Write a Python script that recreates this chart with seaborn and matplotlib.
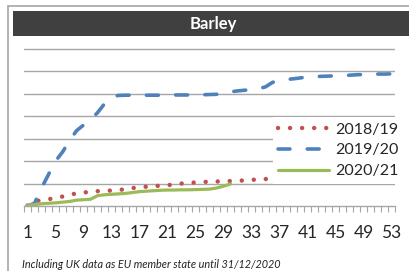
import numpy as np
import pandas as pd
import seaborn as sns
import matplotlib.pyplot as plt
from matplotlib.patches import Rectangle
from matplotlib.lines import Line2D


title = "Barley"
note = "Including UK data as EU member state until 31/12/2020"
series_names = ["2018/19", "2019/20", "2020/21"]
colors = ["#C0504D", "#4F81BD", "#9BBB59"]

weeks_1819 = list(range(1, 37))
vals_1819 = [0.02, 0.20, 0.26, 0.30, 0.36, 0.42, 0.50, 0.56, 0.60, 0.63,
             0.66, 0.67, 0.69, 0.70, 0.76, 0.80, 0.83, 0.86, 0.89, 0.90,
             0.92, 0.97, 1.00, 1.02, 1.05, 1.07, 1.08, 1.09, 1.10, 1.11,
             1.12, 1.14, 1.16, 1.19, 1.20, 1.21]

weeks_1920 = list(range(1, 54))
vals_1920 = [0.00, 0.12, 0.80, 1.40, 2.00, 2.40, 2.90, 3.35, 3.60, 3.85,
             4.15, 4.55, 4.85, 4.92, 4.93, 4.93, 4.93, 4.93, 4.93, 4.93,
             4.94, 4.94, 4.94, 4.94, 4.95, 4.95, 4.96, 4.97, 5.00, 5.08,
             5.12, 5.15, 5.18, 5.22, 5.30, 5.50, 5.60, 5.63, 5.66, 5.70,
             5.74, 5.76, 5.77, 5.78, 5.79, 5.80, 5.82, 5.84, 5.85, 5.86,
             5.87, 5.87, 5.88]

weeks_2021 = list(range(1, 31))
vals_2021 = [0.04, 0.06, 0.10, 0.12, 0.14, 0.17, 0.20, 0.26, 0.28, 0.30,
             0.46, 0.50, 0.52, 0.54, 0.56, 0.60, 0.64, 0.66, 0.68, 0.70,
             0.71, 0.71, 0.72, 0.72, 0.73, 0.74, 0.75, 0.80, 0.88, 0.98]

tick_weeks = list(range(1, 54, 4))

sns.set_style("white")
plt.rcParams['font.family'] = ['Lato', 'DejaVu Sans']

W, H = 409, 271
fig = plt.figure(figsize=(W / 100, H / 100), dpi=100)

# outer frame (left + top only, rest is cropped)
fig.add_artist(Line2D([7.5 / W, 7.5 / W], [0, 1 - 6 / H], color="#A6A6A6", lw=1.2))
fig.add_artist(Line2D([7.5 / W, 1], [1 - 6 / H, 1 - 6 / H], color="#A6A6A6", lw=1.2))

# title bar
fig.add_artist(Rectangle((13 / W, 1 - 36 / H), 1 - 13 / W, 25 / H,
                         transform=fig.transFigure, color="#404040", lw=0))
fig.text(213 / W, 1 - 23.5 / H, title, color="white", fontweight="bold",
         fontsize=12, ha="center", va="center")

ax = fig.add_axes([24 / W, 1 - 206 / H, 371 / W, 158 / H])

sns.lineplot(x=weeks_1819, y=vals_1819, ax=ax, color=colors[0], lw=3.2,
             linestyle=(0, (0.01, 2.7)), dash_capstyle="round", label=series_names[0])
sns.lineplot(x=weeks_1920, y=vals_1920, ax=ax, color=colors[1], lw=2.6,
             linestyle=(0, (3.3, 4.8)), dash_capstyle="round", label=series_names[1])
sns.lineplot(x=weeks_2021, y=vals_2021, ax=ax, color=colors[2], lw=2.3,
             label=series_names[2])

ax.set_xlim(0.5, 53.5)
ax.set_ylim(0, 7.03)
ax.set_yticks([])
for gy in range(1, 8):
    ax.axhline(gy, color="#A6A6A6", lw=1.0, zorder=0)

ax.set_xticks(tick_weeks)
ax.set_xticklabels([str(w) for w in tick_weeks], fontsize=12.5)
ax.set_xticks(np.arange(0.5, 54, 1), minor=True)
ax.tick_params(axis="x", which="major", length=0, pad=14)
ax.tick_params(axis="x", which="minor", length=4, width=0.8, color="#A6A6A6", bottom=True)
for s in ["top", "right", "left"]:
    ax.spines[s].set_visible(False)
ax.spines["bottom"].set_color("#A6A6A6")
ax.spines["bottom"].set_linewidth(1.0)

leg = ax.legend(loc="upper left", bbox_to_anchor=(0.67, 0.565), borderaxespad=0,
                frameon=True, fancybox=False, framealpha=1, edgecolor="white",
                fontsize=11.5, handlelength=3.2, handletextpad=0.35, labelspacing=0.42,
                borderpad=0.35)
leg.get_frame().set_linewidth(0)

fig.text(22 / W, 1 / H, note, fontsize=7.8, style="italic", color="#222222",
         ha="left", va="bottom")

fig.savefig("out.png", dpi=100)
